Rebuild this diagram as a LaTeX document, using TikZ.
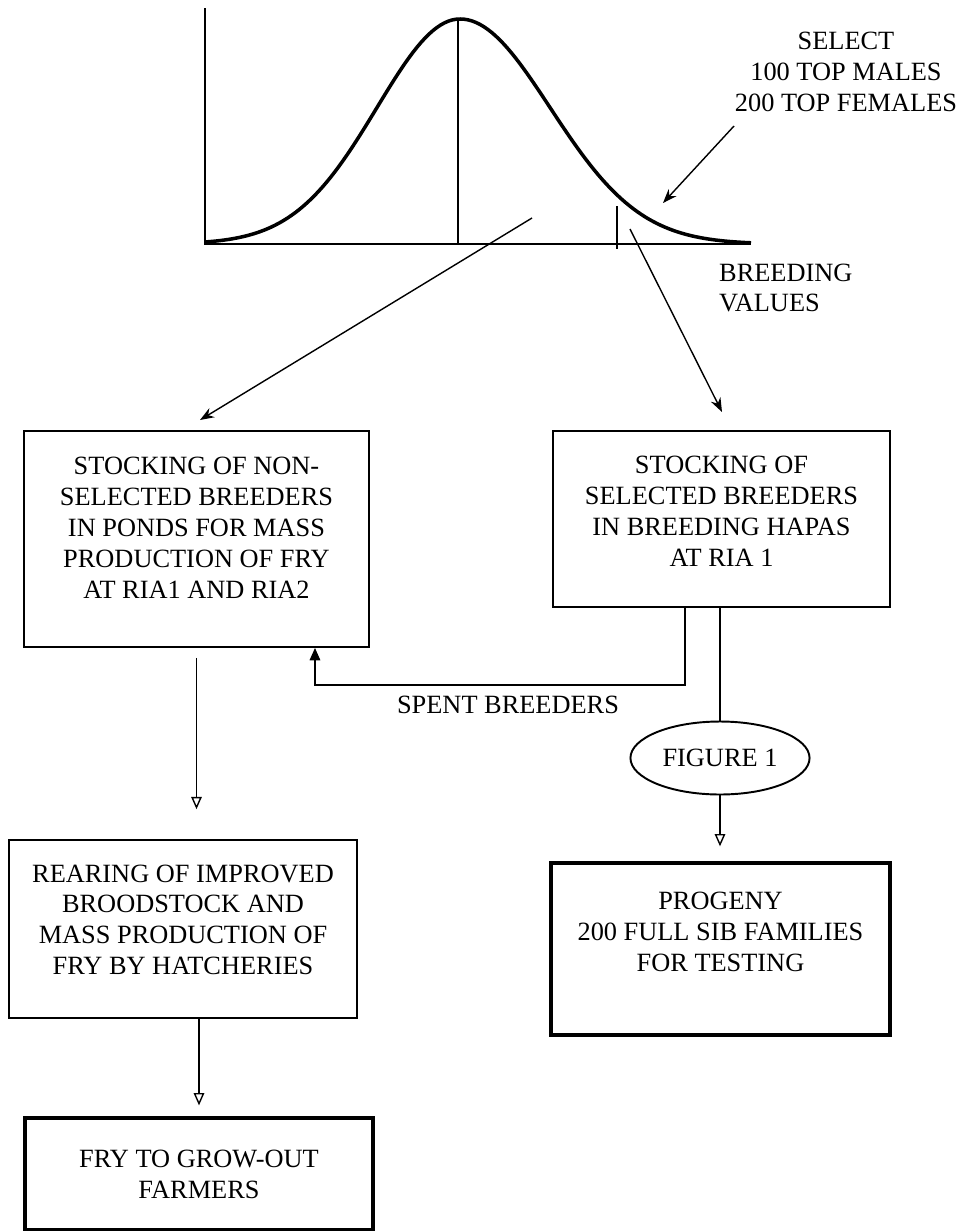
\documentclass[tikz,border=0pt]{standalone}
\usepackage{fontspec}
\setmainfont{Liberation Serif}
\usetikzlibrary{arrows.meta,shapes.geometric}
\begin{document}
\begin{tikzpicture}[x=0.02cm, y=-0.02cm,
    font=\fontsize{15}{17.6}\selectfont,
    stage/.style={draw, line width=1.1pt, align=center, inner sep=0pt},
    endstage/.style={stage, line width=2pt},
    flow/.style={-{Stealth[length=8pt,width=6pt]}, line width=0.8pt},
    down/.style={-{Triangle[open,length=7pt,width=6pt]}, line width=0.8pt}]
  \useasboundingbox (0,0) rectangle (967,1231);
  % distribution of breeding values
  \draw[line width=1.4pt] (205,8) -- (205,244) -- (751,244);
  \draw[line width=2pt] plot[domain=205:751, samples=140]
    (\x, {244-225*exp(-((\x-460)/ifthenelse(\x<460,83,90))^2/2)});
  \draw[line width=0.9pt] (458,19) -- (458,244);
  \draw[line width=0.9pt] (617,206) -- (617,249);
  \node (sellbl) at (846,72) [align=center] {SELECT\\100 TOP MALES\\200 TOP FEMALES};
  \node (bvlbl) at (713,288) [anchor=west, align=left] {BREEDING\\VALUES};
  \coordinate (selstart) at (734,126);
  \coordinate (seltip) at (663,203);
  \coordinate (lstart) at (532,218);
  \coordinate (ltip) at (200,420);
  \coordinate (rstart) at (630,229);
  \coordinate (rtip) at (722,412);
  \draw[flow] (selstart) -- (seltip);
  \draw[flow] (lstart) -- (ltip);
  \draw[flow] (rstart) -- (rtip);
  % stages
  \node[stage, minimum width=6.9cm, minimum height=4.32cm] (nonsel) at (196.5,539)
    {STOCKING OF NON-\\SELECTED BREEDERS\\IN PONDS FOR MASS\\PRODUCTION OF FRY\\AT RIA1 AND RIA2\\[-4.5pt]};
  \node[stage, minimum width=6.74cm, minimum height=3.52cm] (sel) at (721.5,519)
    {STOCKING OF\\SELECTED BREEDERS\\IN BREEDING HAPAS\\AT RIA 1\\[-9pt]};
  \node[stage, minimum width=6.96cm, minimum height=3.56cm] (rear) at (183,929)
    {REARING OF IMPROVED\\BROODSTOCK AND\\MASS PRODUCTION OF\\FRY BY HATCHERIES\\[-7pt]};
  \node[endstage, minimum width=6.78cm, minimum height=3.44cm] (prog) at (720.5,949)
    {PROGENY\\200 FULL SIB FAMILIES\\FOR TESTING\\[2.5pt]};
  \node[endstage, minimum width=6.96cm, minimum height=2.24cm] (fry) at (199,1174)
    {FRY TO GROW-OUT\\FARMERS};
  \node[draw, ellipse, line width=1.1pt, minimum width=3.28cm, minimum height=1.46cm] (fig) at (720,758) {FIGURE 1};
  \node (spentlbl) at (508,705) {SPENT BREEDERS};
  % connectors
  \draw[-{Triangle[length=7pt,width=6pt]}, line width=0.8pt] ([xshift=-0.73cm]sel.south) -- ++(0,77) -| ([xshift=2.37cm]nonsel.south);
  \draw[down, shorten <=5.7pt, shorten >=17pt] (nonsel.south) -- (nonsel.south |- rear.north);
  \draw[down, shorten >=6.2pt] (fry.north |- rear.south) -- (fry.north);
  \draw[line width=0.8pt] (fig.north |- sel.south) -- (fig.north);
  \draw[down, shorten >=8.5pt] (fig.south) -- (fig.south |- prog.north);
\end{tikzpicture}
\end{document}
